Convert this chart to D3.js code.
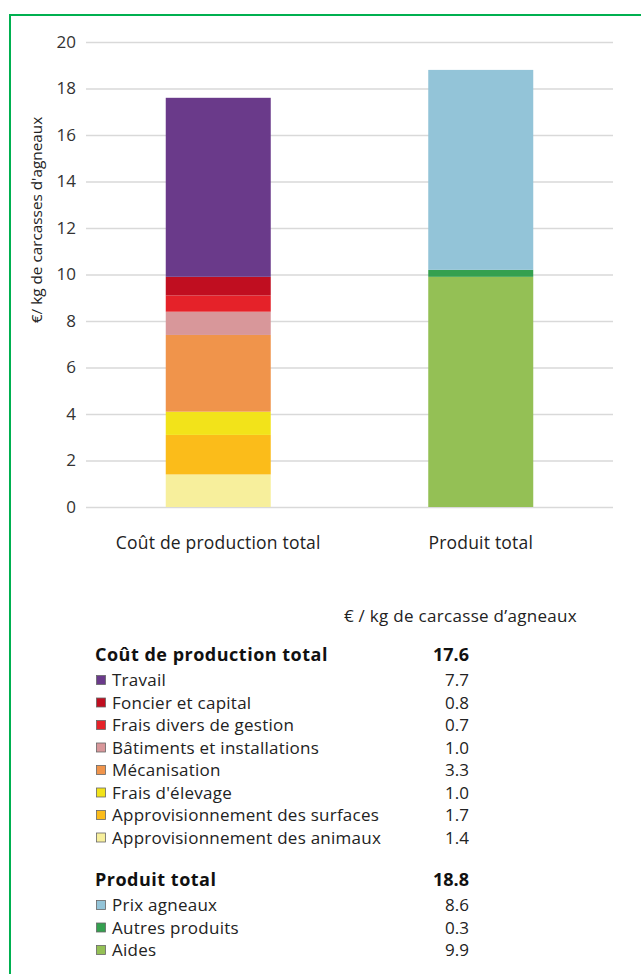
<!DOCTYPE html>
<html><head><meta charset="utf-8">
<script src="https://cdn.jsdelivr.net/npm/d3@7"></script>
<style>body{margin:0;background:#fff;}svg{display:block;}</style>
</head><body>
<script>
const categories = ["Coût de production total", "Produit total"];
const costNames = ["Approvisionnement des animaux","Approvisionnement des surfaces","Frais d'élevage","Mécanisation","Bâtiments et installations","Frais divers de gestion","Foncier et capital","Travail"];
const costValues = [1.4, 1.7, 1.0, 3.3, 1.0, 0.7, 0.8, 7.7];
const costColors = ["#f7ef9c","#fbbc1a","#f2e31a","#f0944b","#d8979a","#e52229","#c00e20","#6a3a8a"];
const prodNames = ["Aides","Autres produits","Prix agneaux"];
const prodValues = [9.9, 0.3, 8.6];
const prodColors = ["#94c055","#34a04f","#93c4d8"];
const totals = [17.6, 18.8];
const yTicks = [0,2,4,6,8,10,12,14,16,18,20];
const yTitle = "€/ kg de carcasses d'agneaux";
const tableUnit = "€ / kg de carcasse d’agneaux";

const W = 641, H = 974;
const svg = d3.select("body").append("svg").attr("width", W).attr("height", H);
const font = "'Open Sans', sans-serif";

// frame
svg.append("line").attr("x1",10).attr("x2",W).attr("y1",15).attr("y2",15).attr("stroke","#00b050").attr("stroke-width",2);
svg.append("line").attr("x1",10).attr("x2",10).attr("y1",14).attr("y2",H).attr("stroke","#00b050").attr("stroke-width",2);

const x = d3.scaleBand().domain(categories).range([86, 613]).paddingInner(0.6).paddingOuter(0.3038);
const y = d3.scaleLinear().domain([0, 20]).range([507, 42]);

// grid
const yAxis = d3.axisLeft(y).tickValues(yTicks).tickSize(-(613-86)).tickPadding(10);
const ga = svg.append("g").attr("transform","translate(86,0)").call(yAxis);
ga.select(".domain").remove();
ga.selectAll(".tick line").attr("stroke","#d9d9d9").attr("stroke-width",1.5);
ga.selectAll(".tick text").attr("font-family",font).attr("font-size",17).attr("fill","#333");

function stack(cat, vals, cols){
  let acc = 0;
  vals.forEach((v,i)=>{
    svg.append("rect").attr("x", x(cat)).attr("width", x.bandwidth())
      .attr("y", y(acc+v)).attr("height", y(acc)-y(acc+v)).attr("fill", cols[i]);
    acc += v;
  });
}
stack(categories[0], costValues, costColors);
stack(categories[1], prodValues, prodColors);

// x labels
categories.forEach(c=>{
  svg.append("text").attr("x", x(c)+x.bandwidth()/2).attr("y", 549).attr("text-anchor","middle")
    .attr("font-family",font).attr("font-size",17.5).attr("letter-spacing",0.2).attr("fill","#222").text(c);
});

// y title
svg.append("text").attr("transform","translate(42,220) rotate(-90)").attr("text-anchor","middle")
  .attr("font-family",font).attr("font-size",15.3).attr("fill","#222").text(yTitle);

// table
const tx = 95, vx = 469;
svg.append("text").attr("x",577).attr("y",622).attr("text-anchor","end").attr("font-family",font).attr("font-size",17).attr("letter-spacing",0.3).attr("fill","#222").text(tableUnit);

function section(title, total, names, vals, cols, y0){
  svg.append("text").attr("x",tx).attr("y",y0).attr("font-family",font).attr("font-weight","bold").attr("font-size",18).attr("letter-spacing",0.5).attr("fill","#111").text(title);
  svg.append("text").attr("x",vx).attr("y",y0).attr("text-anchor","end").attr("font-family",font).attr("font-weight","bold").attr("font-size",18).attr("fill","#111").text(total.toFixed(1));
  names.forEach((n,i)=>{
    const yy = y0 + 25 + i*22.5;
    svg.append("rect").attr("x",96.5).attr("y",yy-10.5).attr("width",9).attr("height",9).attr("fill",cols[i]).attr("stroke","#666").attr("stroke-width",0.8);
    svg.append("text").attr("x",112).attr("y",yy).attr("font-family",font).attr("font-size",17).attr("letter-spacing",0.25).attr("fill","#222").text(n);
    svg.append("text").attr("x",vx).attr("y",yy).attr("text-anchor","end").attr("font-family",font).attr("font-size",17).attr("fill","#222").text(vals[i].toFixed(1));
  });
}
section(categories[0], totals[0], costNames.slice().reverse(), costValues.slice().reverse(), costColors.slice().reverse(), 661);
section(categories[1], totals[1], prodNames.slice().reverse(), prodValues.slice().reverse(), prodColors.slice().reverse(), 886);
</script>
</body></html>
